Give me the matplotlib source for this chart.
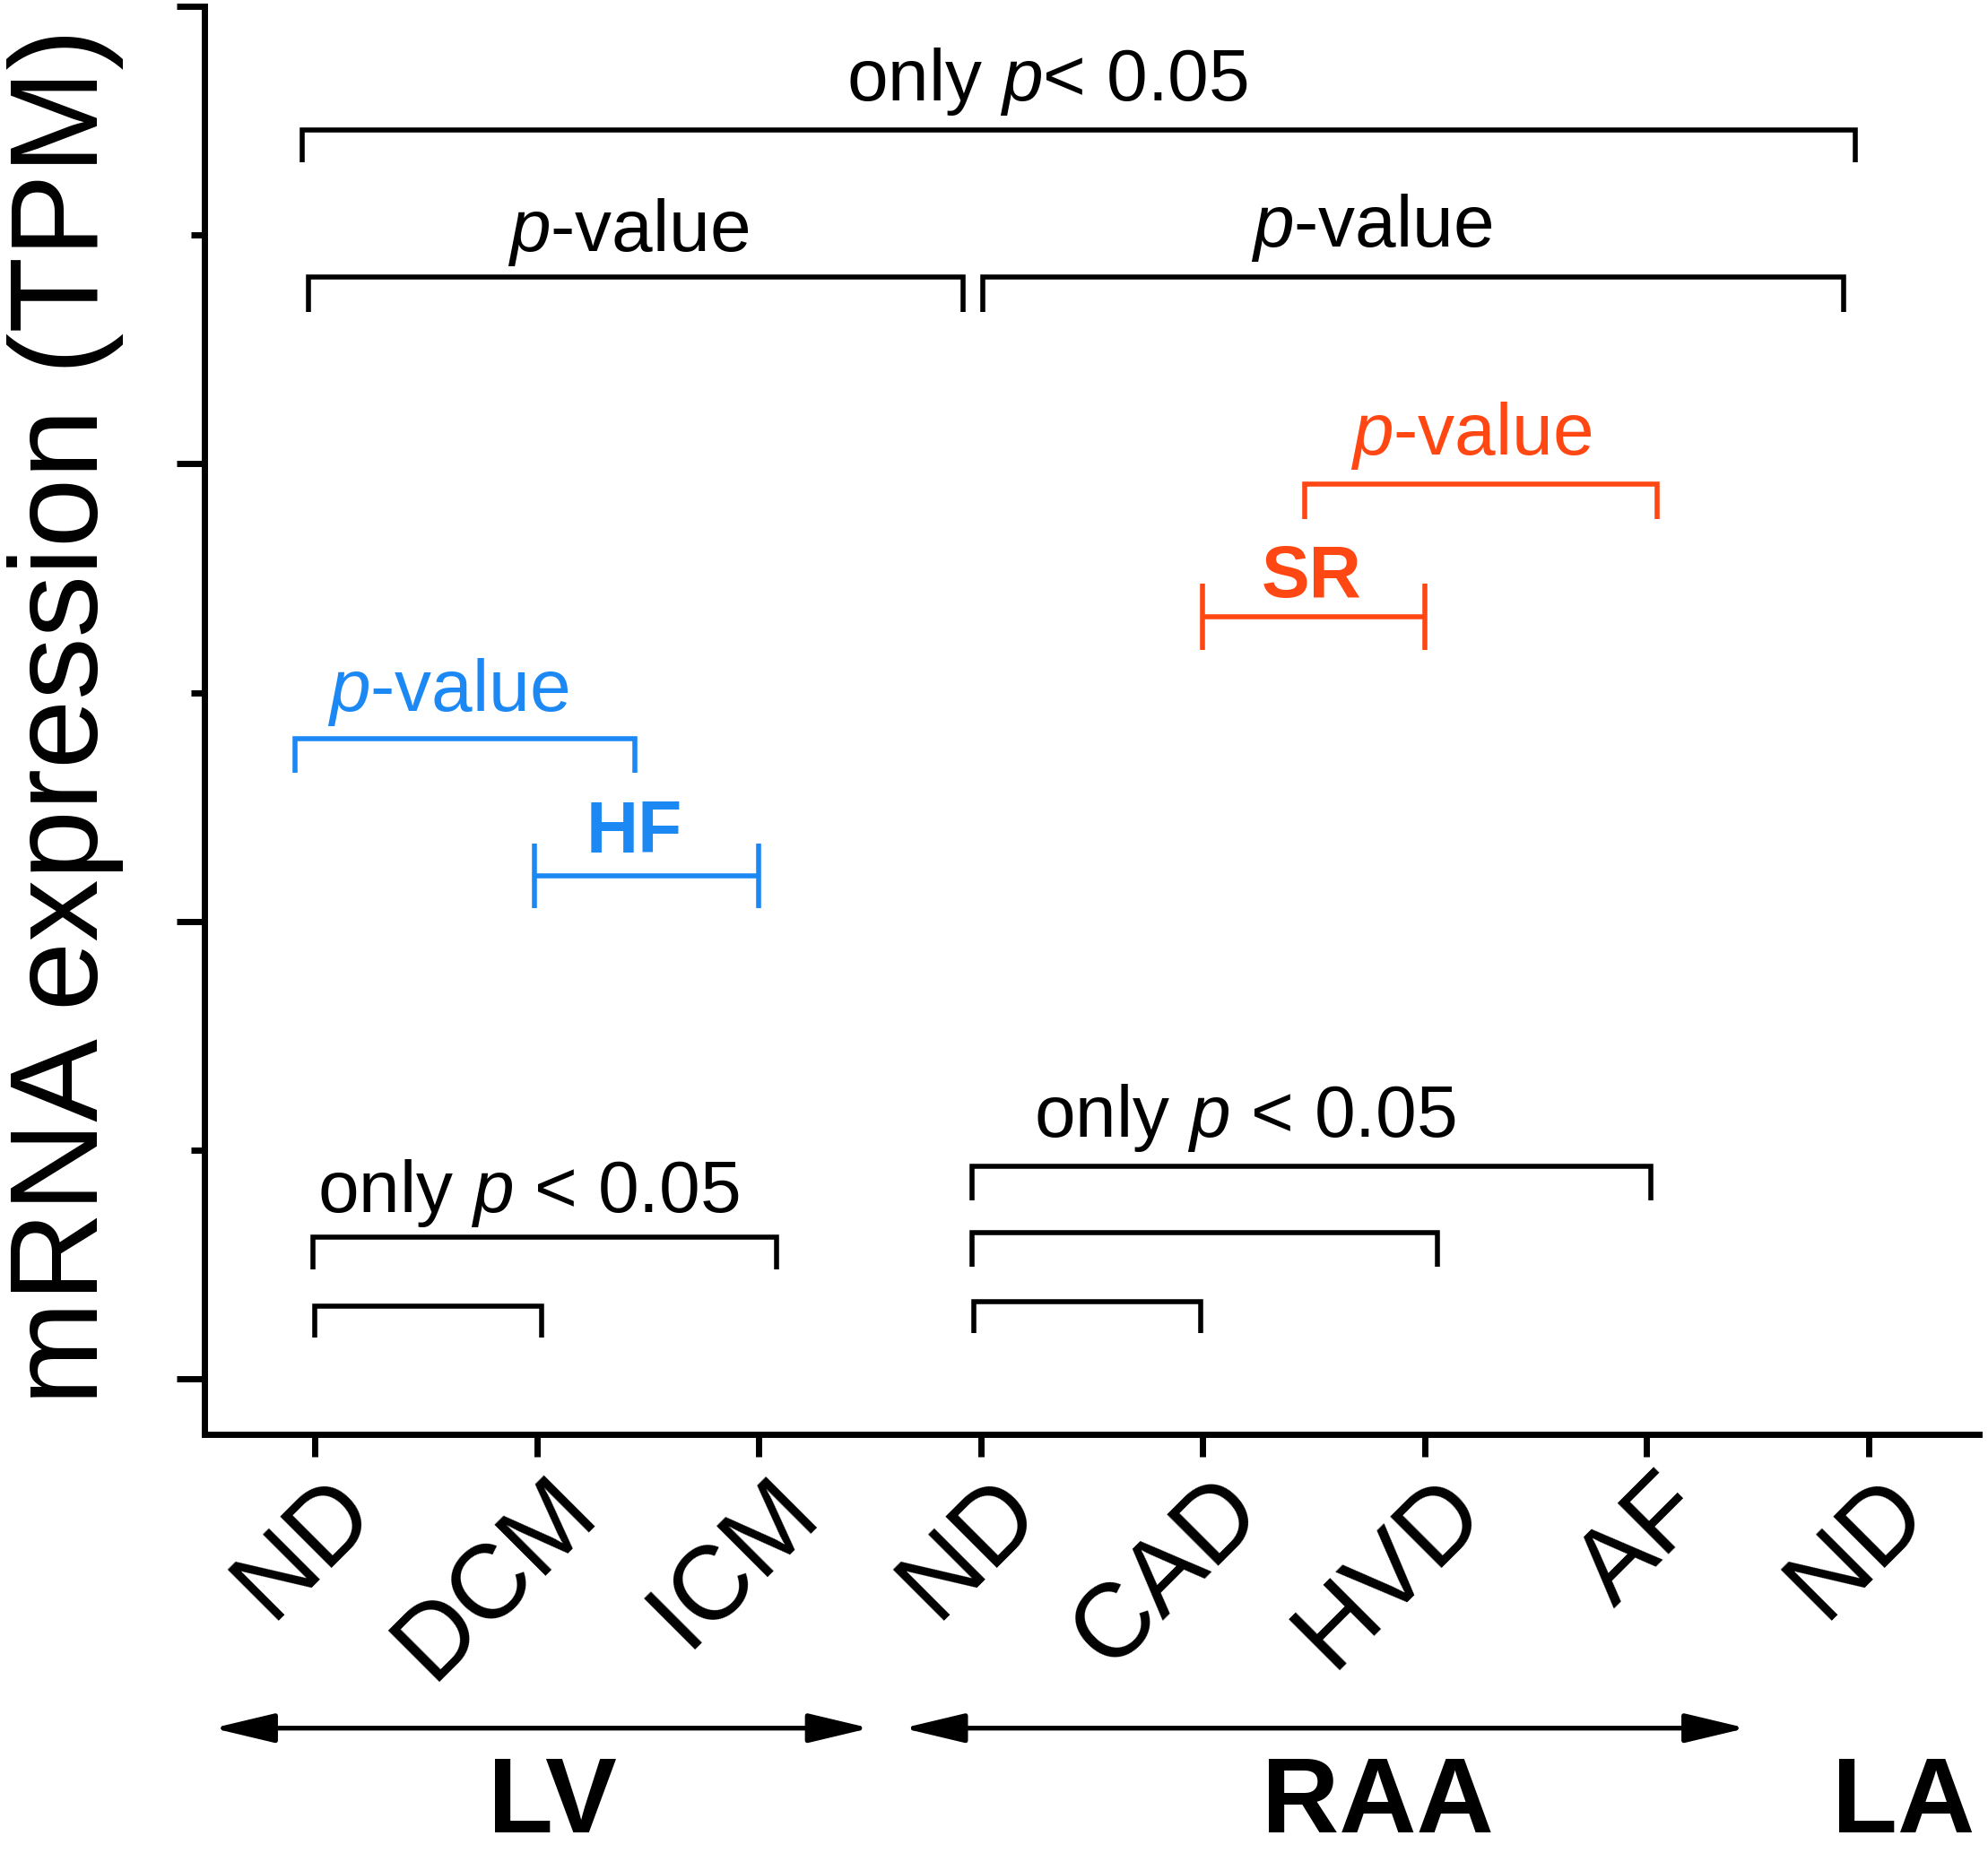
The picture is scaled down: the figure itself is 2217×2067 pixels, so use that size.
import matplotlib
matplotlib.use("Agg")
import matplotlib.pyplot as plt
import matplotlib.transforms as mtransforms
from matplotlib.patches import FancyArrowPatch

plt.rcParams['font.family'] = ['Liberation Sans', 'DejaVu Sans']
plt.rcParams['mathtext.fontset'] = 'custom'
plt.rcParams['mathtext.rm'] = 'Liberation Sans'
plt.rcParams['mathtext.it'] = 'Liberation Sans:italic'
plt.rcParams['mathtext.bf'] = 'Liberation Sans:bold'

# ---------------- data ----------------
categories = ['ND', 'DCM', 'ICM', 'ND', 'CAD', 'HVD', 'AF', 'ND']
regions = ['LV', 'RAA', 'LA']
region_x = [1.07, 4.79, 7.16]
region_arrows_x0 = [-0.46, 2.65]
region_arrows_x1 = [2.50, 6.45]

y_ticks_major = [0, 2, 4, 6]
y_ticks_minor = [1, 3, 5]

# comparison brackets (legs pointing down)
br_x1 = [-0.06, -0.03, 3.01, 4.46, -0.09, -0.01, 0.00, 2.96, 2.96, 2.97]
br_x2 = [6.94, 2.92, 6.89, 6.05, 1.44, 2.08, 1.02, 6.02, 5.06, 3.99]
br_y = [5.46, 4.815, 4.815, 3.91, 2.80, 0.62, 0.32, 0.93, 0.64, 0.34]
br_leg = [0.14, 0.15, 0.15, 0.15, 0.15, 0.14, 0.14, 0.15, 0.15, 0.14]
br_color = ['k', 'k', 'k', 'orange', 'blue', 'k', 'k', 'k', 'k', 'k']

# group spans (error-bar style)
span_x1 = [4.0, 0.99]
span_x2 = [5.0, 2.0]
span_y = [3.33, 2.20]
span_half = [0.145, 0.14]
span_color = ['orange', 'blue']
span_labels = ['SR', 'HF']
span_label_x = [4.49, 1.44]
span_label_y = [3.42, 2.30]

# annotation texts
ann_text = [r'only $p$< 0.05', r'$p$-value', r'$p$-value', r'$p$-value',
            r'$p$-value', r'only $p$ < 0.05', r'only $p$ < 0.05']
ann_x = [3.30, 1.41, 4.76, 5.21, 0.60, 0.96, 4.19]
ann_y = [5.59, 4.93, 4.95, 4.04, 2.92, 0.73, 1.06]
ann_color = ['k', 'k', 'k', 'orange', 'blue', 'k', 'k']

palette = {'k': 'black', 'orange': '#FF4713', 'blue': '#1C88F4'}

# ---------------- figure ----------------
fig = plt.figure(figsize=(22.17, 20.67), dpi=100)
ax = fig.add_axes([0.1027, 0.2261, 0.9956 - 0.1027, 0.9966 - 0.2261])
ax.set_xlim(-0.5, 7.5)
ax.set_ylim(-0.24, 6.0)

for s in ['top', 'right']:
    ax.spines[s].set_visible(False)
for s in ['left', 'bottom']:
    ax.spines[s].set_linewidth(5)
    ax.spines[s].set_capstyle('projecting')

ax.set_yticks(y_ticks_major)
ax.set_yticks(y_ticks_minor, minor=True)
ax.set_yticklabels([])
ax.tick_params(axis='y', which='major', length=22, width=5, direction='out')
ax.tick_params(axis='y', which='minor', length=11, width=5, direction='out')

ax.set_xticks(range(len(categories)))
ax.set_xticklabels(categories, rotation=45, ha='right', va='top', fontsize=84)
ax.tick_params(axis='x', which='major', length=18, width=5, direction='out', pad=3)
offset = mtransforms.ScaledTranslation(62 / 72, 0, fig.dpi_scale_trans)
for lab in ax.get_xticklabels():
    lab.set_transform(lab.get_transform() + offset)

lw_br = 4.0
for x1, x2, y, leg, c in zip(br_x1, br_x2, br_y, br_leg, br_color):
    ax.plot([x1, x1, x2, x2], [y - leg, y, y, y - leg], color=palette[c],
            lw=lw_br, solid_joinstyle='miter', solid_capstyle='butt', clip_on=False)

for x1, x2, y, h, c in zip(span_x1, span_x2, span_y, span_half, span_color):
    ax.plot([x1, x2], [y, y], color=palette[c], lw=lw_br, solid_capstyle='butt')
    ax.plot([x1, x1], [y - h, y + h], color=palette[c], lw=lw_br, solid_capstyle='butt')
    ax.plot([x2, x2], [y - h, y + h], color=palette[c], lw=lw_br, solid_capstyle='butt')

for t, x, y, c in zip(span_labels, span_label_x, span_label_y, span_color):
    ax.text(x, y, t, ha='center', va='baseline', fontsize=58, fontweight='bold',
            color=palette[c])

for t, x, y, c in zip(ann_text, ann_x, ann_y, ann_color):
    ax.text(x, y, t, ha='center', va='baseline', fontsize=59, color=palette[c])

# region arrows and labels
trans = ax.get_xaxis_transform()
for x0, x1 in zip(region_arrows_x0, region_arrows_x1):
    arr = FancyArrowPatch((x0, -0.206), (x1, -0.206), transform=trans,
                          arrowstyle='<|-|>,head_length=42,head_width=10',
                          mutation_scale=1, lw=3.8, color='black',
                          shrinkA=0, shrinkB=0, clip_on=False)
    ax.add_patch(arr)

for t, x in zip(regions, region_x):
    ax.text(x, -0.279, t, transform=trans, ha='center', va='baseline',
            fontsize=86, fontweight='bold', clip_on=False)

fig.text(0.033, 0.6135, 'mRNA expression (TPM)', rotation=90, ha='center',
         va='center', fontsize=100)

fig.savefig('out.png', dpi=100, facecolor='white')
